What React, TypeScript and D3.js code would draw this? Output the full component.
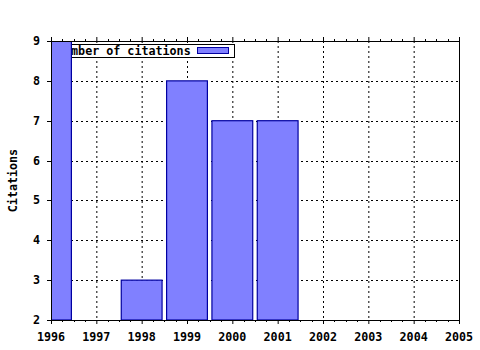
import React from "react";
import * as d3 from "d3";

const years = [1996, 1998, 1999, 2000, 2001];
const citations = [9, 3, 8, 7, 7];
const xTicks = [1996, 1997, 1998, 1999, 2000, 2001, 2002, 2003, 2004, 2005];
const yTicks = [2, 3, 4, 5, 6, 7, 8, 9];
const seriesName = "Number of citations";
const yLabel = "Citations";

const W = 480, H = 350;
const L = 51, R = 459, T = 41, B = 320;
const FONT = "'DejaVu Sans Mono', monospace";

export default function App() {
  const x = d3.scaleLinear().domain([1996, 2005]).range([L, R]);
  const y = d3.scaleLinear().domain([2, 9]).range([B, T]);
  const bw = x(1996.9) - x(1996);
  const minor: number[] = [];
  for (let v = 1996; v < 2005; v++) for (let k = 1; k < 4; k++) minor.push(v + k / 4);

  return (
    <svg width={W} height={H} style={{ position: "absolute", left: 0, top: 0, background: "#fff" }}>
      <defs>
        <clipPath id="plot">
          <rect x={L} y={T} width={R - L} height={B - T} />
        </clipPath>
      </defs>
      <rect width={W} height={H} fill="#fff" />
      {/* grid */}
      {xTicks.slice(1, -1).map((v) => (
        <line key={"gx" + v} x1={x(v) + 0.5} x2={x(v) + 0.5} y1={T} y2={B} stroke="#000" strokeDasharray="2,3" strokeWidth={1} />
      ))}
      {yTicks.slice(1, -1).map((v) => (
        <line key={"gy" + v} x1={L} x2={R} y1={Math.round(y(v)) + 0.5} y2={Math.round(y(v)) + 0.5} stroke="#000" strokeDasharray="2,3" strokeWidth={1} />
      ))}
      {/* legend (behind bars) */}
      <g>
        <rect x={53.5} y={44.5} width={181} height={13} fill="#fff" stroke="#000" strokeWidth={1} />
        <text x={57} y={55} fontFamily={FONT} fontWeight="bold" fontSize={11.7} fill="#000">{seriesName}</text>
        <rect x={197.5} y={47.5} width={31} height={6} fill="#8080ff" stroke="#0000a0" strokeWidth={1} />
      </g>
      {/* bars */}
      <g clipPath="url(#plot)">
        {years.map((yr, i) => (
          <rect key={yr} x={x(yr) - bw / 2} y={y(citations[i])} width={bw} height={B - y(citations[i])}
            fill="#8080ff" stroke="#0000a0" strokeWidth={1.2} />
        ))}
      </g>
      {/* frame */}
      <rect x={L + 0.5} y={T + 0.5} width={R - L} height={B - T} fill="none" stroke="#000" strokeWidth={1} />
      {/* x ticks bottom & top */}
      {xTicks.map((v) => (
        <g key={"xt" + v}>
          <line x1={x(v) + 0.5} x2={x(v) + 0.5} y1={B} y2={B + 4} stroke="#000" />
          <line x1={x(v) + 0.5} x2={x(v) + 0.5} y1={T} y2={T - 4} stroke="#000" />
          <text x={x(v)} y={341} textAnchor="middle" fontFamily={FONT} fontWeight="bold" fontSize={11.7}>{v}</text>
        </g>
      ))}
      {minor.map((v) => (
        <g key={"mt" + v}>
          <line x1={Math.round(x(v)) + 0.5} x2={Math.round(x(v)) + 0.5} y1={B} y2={B + 2} stroke="#000" />
          <line x1={Math.round(x(v)) + 0.5} x2={Math.round(x(v)) + 0.5} y1={T} y2={T - 2} stroke="#000" />
        </g>
      ))}
      {/* y ticks */}
      {yTicks.map((v) => (
        <g key={"yt" + v}>
          <line x1={L - 4} x2={L} y1={Math.round(y(v)) + 0.5} y2={Math.round(y(v)) + 0.5} stroke="#000" />
          <text x={40} y={y(v) + 4} textAnchor="end" fontFamily={FONT} fontWeight="bold" fontSize={11.7}>{v}</text>
        </g>
      ))}
      <text transform={`translate(17,${(T + B) / 2}) rotate(-90)`} textAnchor="middle" fontFamily={FONT} fontWeight="bold" fontSize={11.7}>{yLabel}</text>
    </svg>
  );
}
